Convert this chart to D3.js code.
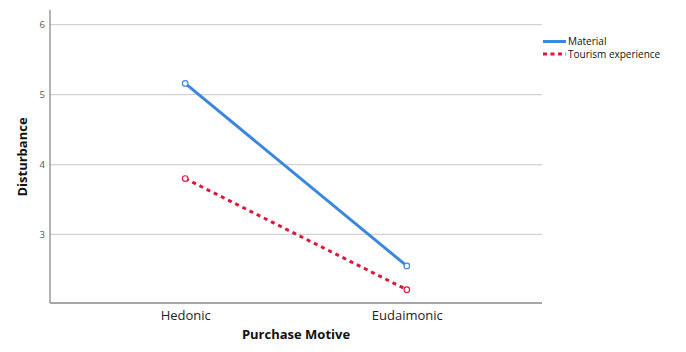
<!DOCTYPE html>
<html><head><meta charset="utf-8">
<script src="https://cdn.jsdelivr.net/npm/d3@7"></script>
<style>body{margin:0;background:#fff;} svg{display:block;} text{font-family:"Open Sans","DejaVu Sans",sans-serif;}</style>
</head><body>
<svg id="c" width="686" height="352"></svg>
<script>
const categories = ["Hedonic", "Eudaimonic"];
const materialValues = [5.16, 2.55];
const tourismValues = [3.80, 2.21];
const yTicks = [3, 4, 5, 6];
const seriesNames = ["Material", "Tourism experience"];
const seriesColors = ["#3b87dc", "#e0173d"];

const svg = d3.select("#c");
const x0 = 50, x1 = 542, yTop = 10, yBot = 303;
const x = d3.scalePoint().domain(categories).range([x0, x1]).padding(0.61);
const y = d3.scaleLinear().domain([2.02, 6.21]).range([yBot, yTop]);

// gridlines
svg.append("g").selectAll("line").data(yTicks).join("line")
  .attr("x1", x0).attr("x2", x1).attr("y1", d => y(d)).attr("y2", d => y(d))
  .attr("stroke", "#d2d2d2").attr("stroke-width", 1.2);

// y axis
const ya = svg.append("g").attr("transform", `translate(${x0},0)`)
  .call(d3.axisLeft(y).tickValues(yTicks).tickSize(0).tickPadding(5).tickFormat(d3.format("d")));
ya.select(".domain").remove();
ya.selectAll("text").attr("fill", "#555").attr("font-size", 9.5);
svg.append("line").attr("x1", x0).attr("x2", x0).attr("y1", yTop).attr("y2", yBot)
  .attr("stroke", "#8a8a8a").attr("stroke-width", 1.3);

// x axis
const xa = svg.append("g").attr("transform", `translate(0,${yBot})`)
  .call(d3.axisBottom(x).tickSize(0).tickPadding(8));
xa.select(".domain").remove();
xa.selectAll("text").attr("fill", "#222").attr("font-size", 13);
svg.append("line").attr("x1", x0).attr("x2", x1).attr("y1", yBot).attr("y2", yBot)
  .attr("stroke", "#8a8a8a").attr("stroke-width", 1.5);

// axis titles
svg.append("text").attr("x", 296).attr("y", 339).attr("text-anchor", "middle")
  .attr("font-size", 13).attr("font-weight", "bold").attr("fill", "#111").text("Purchase Motive");
svg.append("text").attr("transform", "translate(27,157) rotate(-90)").attr("text-anchor", "middle")
  .attr("font-size", 13).attr("font-weight", "bold").attr("fill", "#111").text("Disturbance");

// series
const series = [
  {name: seriesNames[0], values: materialValues, color: seriesColors[0], dash: null},
  {name: seriesNames[1], values: tourismValues, color: seriesColors[1], dash: "4,4"}
];
const line = d3.line().x((d, i) => x(categories[i])).y(d => y(d));
series.forEach(s => {
  svg.append("path").datum(s.values).attr("d", line).attr("fill", "none")
    .attr("stroke", s.color).attr("stroke-width", 3)
    .attr("stroke-dasharray", s.dash);
  svg.append("g").selectAll("circle").data(s.values).join("circle")
    .attr("cx", (d, i) => x(categories[i])).attr("cy", d => y(d)).attr("r", 2.8)
    .attr("fill", "#fff").attr("stroke", s.color).attr("stroke-width", 1.2);
});

// legend
const lg = svg.append("g");
series.forEach((s, i) => {
  const ly = 41.5 + i * 12.5;
  lg.append("line").attr("x1", 543).attr("x2", 566).attr("y1", ly).attr("y2", ly)
    .attr("stroke", s.color).attr("stroke-width", 3).attr("stroke-dasharray", s.dash ? "4,3.5" : null);
  lg.append("text").attr("x", 568).attr("y", ly + 3.6).attr("font-size", 10)
    .attr("font-family", "Lato, 'Open Sans', sans-serif").attr("fill", "#111").text(s.name);
});
</script>
</body></html>
